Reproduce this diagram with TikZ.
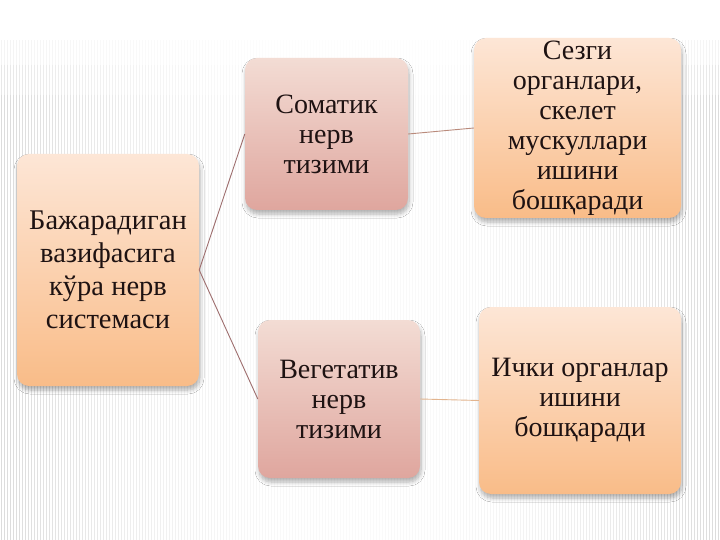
\documentclass[tikz,border=0pt]{standalone}
\usepackage{fontspec}
\setmainfont{Liberation Serif}
\usetikzlibrary{shadows,shadows.blur}
\definecolor{peachtop}{HTML}{FDE6D6}
\definecolor{peachbot}{HTML}{F9BC88}
\definecolor{pinktop}{HTML}{F3DCD4}
\definecolor{pinkbot}{HTML}{DFA69E}
\definecolor{txt}{HTML}{1E1212}
\definecolor{linkbrown}{HTML}{9E6E6E}
\definecolor{linkorange}{HTML}{E2B48E}
\definecolor{stripe}{HTML}{8A8A8A}
\begin{document}
\begin{tikzpicture}[x=1pt,y=-1pt,
  box/.style={rounded corners=12pt, align=center, inner sep=0pt,
    font=\fontsize{28}{30}\selectfont, text=txt,
    blur shadow={shadow xshift=1pt, shadow yshift=-4pt, shadow blur steps=6, shadow blur radius=4pt, shadow opacity=30}},
  peachbox/.style={box, top color=peachtop, bottom color=peachbot},
  pinkbox/.style={box, top color=pinktop, bottom color=pinkbot},
  conn/.style={line width=0.9pt, linkbrown},
  connlight/.style={line width=0.9pt, linkorange}]
\useasboundingbox (0,0) rectangle (720,540);
\fill[white] (0,0) rectangle (720,540);
% background stripes
\foreach \i in {0,...,239}{
  \pgfmathsetmacro\xx{3*\i+1}
  \pgfmathsetmacro\opa{0.04+0.26*((\xx-360)/360)^2}
  \pgfmathsetmacro\opb{0.3*\opa}
  \pgfmathsetmacro\opc{0.65*\opa}
  \draw[stripe, line width=1pt, opacity=\opb] (\xx,40) -- (\xx,65);
  \draw[stripe, line width=1pt, opacity=\opc] (\xx,65) -- (\xx,95);
  \draw[stripe, line width=1pt, opacity=\opa] (\xx,95) -- (\xx,540);
}
\node[peachbox, minimum width=182pt, minimum height=232pt,
  font=\fontsize{28.5}{33}\selectfont] (A) at (108,270)
  {Бажарадиган\\вазифасига\\кўра нерв\\системаси};
\node[pinkbox, minimum width=163pt, minimum height=152pt] (B) at (326.5,134)
  {Соматик\\нерв\\тизими};
\node[peachbox, minimum width=207pt, minimum height=180pt] (C) at (577.5,128)
  {Сезги\\органлари,\\скелет\\мускуллари\\ишини\\бошқаради};
\node[pinkbox, minimum width=162pt, minimum height=158pt] (D) at (339,399)
  {Вегетатив\\нерв\\тизими};
\node[peachbox, minimum width=202pt, minimum height=187pt] (E) at (580,400.5)
  {Ички органлар\\ишини\\бошқаради};
\draw[conn] (A.east) -- (B.west);
\draw[conn] (A.east) -- (D.west);
\draw[conn, color=linkbrown!60!linkorange] (B.east) -- (C.west);
\draw[connlight] (D.east) -- (E.west);
\end{tikzpicture}
\end{document}
